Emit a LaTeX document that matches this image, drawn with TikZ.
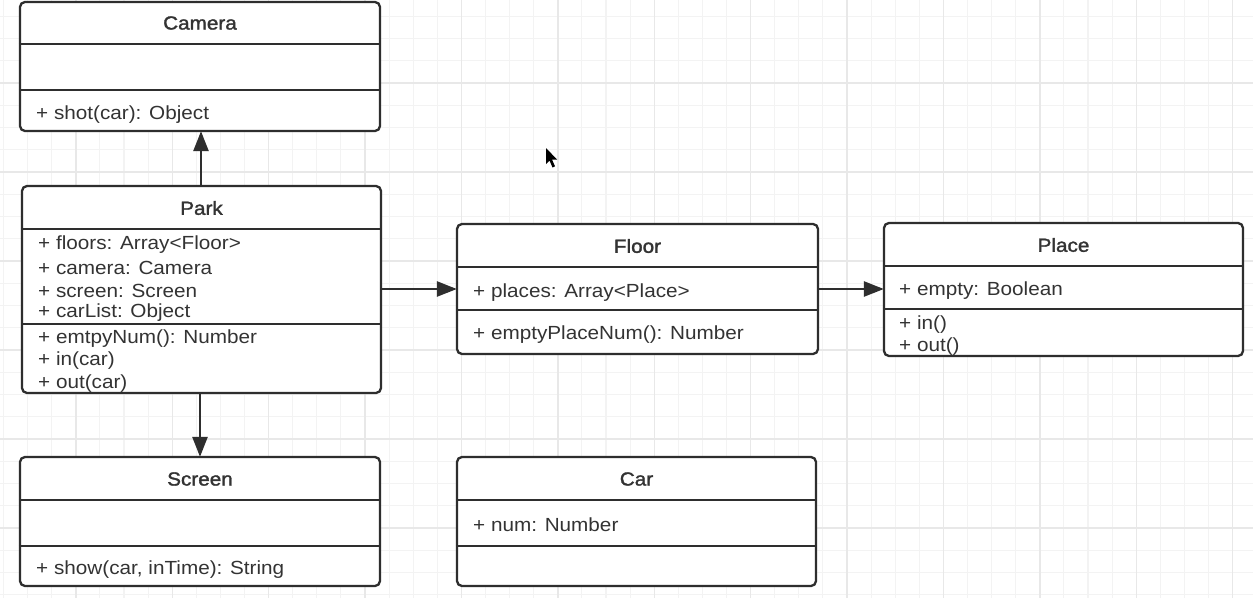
\documentclass[tikz,border=0pt]{standalone}
\usepackage{fontspec}
\setmainfont{Liberation Sans}[FakeStretch=1.09]
\newfontfamily\titlefont{Liberation Sans}[FakeStretch=1.09,FakeBold=1.6]
\usetikzlibrary{arrows.meta}
\definecolor{ink}{HTML}{2E2E2E}
\definecolor{txt}{HTML}{333333}
\definecolor{gridminor}{HTML}{F3F3F3}
\definecolor{gridmajor}{HTML}{E8E8E8}
\tikzset{
  classbox/.style={draw=ink, line width=2.3pt, rounded corners=5pt, fill=white, inner sep=0pt},
  divider/.style={draw=ink, line width=2.1pt},
  title/.style={font=\titlefont\fontsize{19}{22}\selectfont, text=txt, inner sep=0pt},
  member/.style={font=\fontsize{19}{22}\selectfont, text=txt, anchor=west, inner sep=0pt, yshift=-2.5pt},
  link/.style={draw=ink, line width=2.6pt, -{Triangle[length=20pt,width=15pt]}, shorten >=-1pt},
}
\begin{document}
\begin{tikzpicture}[x=1pt,y=-1pt]
\useasboundingbox (0,0) rectangle (1253,598);
\fill[white] (0,0) rectangle (1253,598);
% grid
\foreach \i in {0,...,51} {
  \draw[gridminor, line width=1.1pt] ({3.5+24.1*\i},0) -- ({3.5+24.1*\i},598);
}
\foreach \k in {0,...,26} {
  \draw[gridminor, line width=1.1pt] (0,{16.25+22.25*\k}) -- (1253,{16.25+22.25*\k});
}
\foreach \i in {3,7,...,51} {
  \draw[gridmajor, line width=1.4pt] ({3.5+24.1*\i},0) -- ({3.5+24.1*\i},598);
}
\foreach \k in {3,7,...,23} {
  \draw[gridmajor, line width=1.4pt] (0,{16.25+22.25*\k}) -- (1253,{16.25+22.25*\k});
}

% Camera
\node[classbox, minimum width=360pt, minimum height=129pt] (camera) at (200,66.5) {};
\draw[divider] (camera.west |- 0,44) -- (camera.east |- 0,44);
\draw[divider] (camera.west |- 0,90) -- (camera.east |- 0,90);
\node[title] (cameraT) at (camera.north |- 0,23) {Camera};
\node[member] (cameraM1) at (36,112) {+ shot(car): Object};

% Park
\node[classbox, minimum width=359pt, minimum height=207pt] (park) at (201.5,289.5) {};
\draw[divider] (park.west |- 0,229) -- (park.east |- 0,229);
\draw[divider] (park.west |- 0,324) -- (park.east |- 0,324);
\node[title] (parkT) at (park.north |- 0,208) {Park};
\node[member] (parkA1) at (38,242) {+ floors: Array<Floor>};
\node[member] (parkA2) at (38,265) {+ camera: Camera};
\node[member] (parkA3) at (38,288) {+ screen: Screen};
\node[member] (parkA4) at (38,310) {+ carList: Object};
\node[member] (parkM1) at (38,336) {+ emtpyNum(): Number};
\node[member] (parkM2) at (38,358) {+ in(car)};
\node[member] (parkM3) at (38,381) {+ out(car)};

% Floor
\node[classbox, minimum width=361pt, minimum height=130pt] (floor) at (637.5,289) {};
\draw[divider] (floor.west |- 0,267) -- (floor.east |- 0,267);
\draw[divider] (floor.west |- 0,310) -- (floor.east |- 0,310);
\node[title] (floorT) at (floor.north |- 0,246) {Floor};
\node[member] (floorA1) at (473,290) {+ places: Array<Place>};
\node[member] (floorM1) at (473,332) {+ emptyPlaceNum(): Number};

% Place
\node[classbox, minimum width=359pt, minimum height=133pt] (place) at (1063.5,289.5) {};
\draw[divider] (place.west |- 0,266) -- (place.east |- 0,266);
\draw[divider] (place.west |- 0,309) -- (place.east |- 0,309);
\node[title] (placeT) at (place.north |- 0,245) {Place};
\node[member] (placeA1) at (899,288) {+ empty: Boolean};
\node[member] (placeM1) at (899,322) {+ in()};
\node[member] (placeM2) at (899,344) {+ out()};

% Screen
\node[classbox, minimum width=360pt, minimum height=129pt] (screen) at (200,521.5) {};
\draw[divider] (screen.west |- 0,500) -- (screen.east |- 0,500);
\draw[divider] (screen.west |- 0,546) -- (screen.east |- 0,546);
\node[title] (screenT) at (screen.north |- 0,479) {Screen};
\node[member] (screenM1) at (36,567) {+ show(car, inTime): String};

% Car
\node[classbox, minimum width=359pt, minimum height=129pt] (car) at (636.5,521.5) {};
\draw[divider] (car.west |- 0,500) -- (car.east |- 0,500);
\draw[divider] (car.west |- 0,546) -- (car.east |- 0,546);
\node[title] (carT) at (car.north |- 0,479) {Car};
\node[member] (carA1) at (473,522) {+ num: Number};

% connectors
\draw[link] (park.north -| 201,0) -- (camera.south -| 201,0);
\draw[link] (park.south -| 200,0) -- (screen.north -| 200,0);
\draw[link] (park.east |- 0,289) -- (floor.west |- 0,289);
\draw[link] (floor.east |- 0,289) -- (place.west |- 0,289);

% mouse cursor
\fill[black] (546,148) -- (546,164) -- (549.5,160.5) -- (552.5,167.5) -- (555,166.3) -- (552,159.5) -- (557,159.5) -- cycle;
\end{tikzpicture}
\end{document}
